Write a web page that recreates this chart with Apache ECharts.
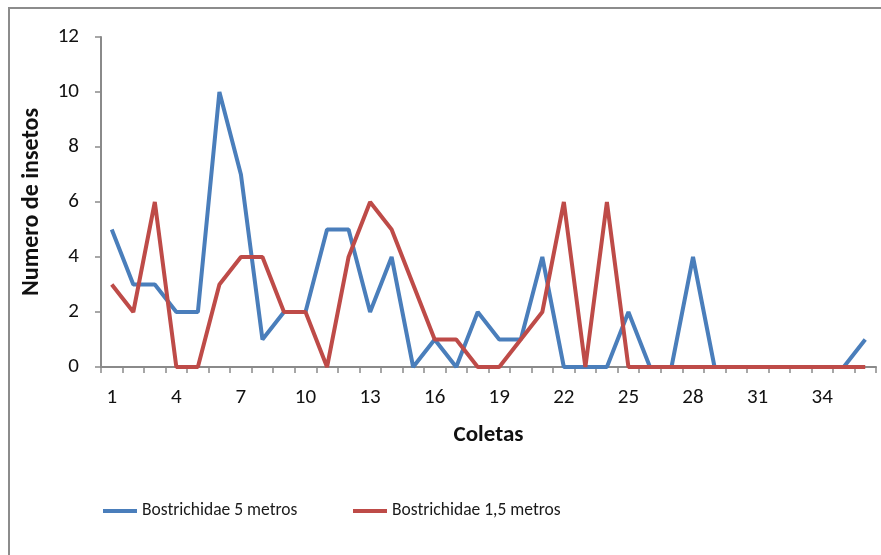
<!DOCTYPE html>
<html>
<head>
<meta charset="utf-8">
<script src="https://cdn.jsdelivr.net/npm/echarts@6/dist/echarts.min.js"></script>
<style>
  html, body { margin: 0; padding: 0; background: #ffffff; }
  #chart { width: 881px; height: 555px; }
</style>
</head>
<body>
<div id="chart"></div>
<script>
// Collection number (Coletas) along the x axis
const coletas = Array.from({ length: 36 }, (_, i) => String(i + 1));

// Insect counts per collection
const bostrichidae5m = [5, 3, 3, 2, 2, 10, 7, 1, 2, 2, 5, 5, 2, 4, 0, 1, 0, 2, 1, 1, 4, 0, 0, 0, 2, 0, 0, 4, 0, 0, 0, 0, 0, 0, 0, 1];
const bostrichidae15m = [3, 2, 6, 0, 0, 3, 4, 4, 2, 2, 0, 4, 6, 5, 3, 1, 1, 0, 0, 1, 2, 6, 0, 6, 0, 0, 0, 0, 0, 0, 0, 0, 0, 0, 0, 0];

const seriesNames = ['Bostrichidae 5 metros', 'Bostrichidae 1,5 metros'];
const yTicks = { min: 0, max: 12, interval: 2 };

const FONT = 'Carlito, Calibri, Lato, sans-serif';
const axisGray = '#8a8a8a';
const BLUE = '#4A7EBB';
const RED = '#BE4B48';

const legendText = { fontFamily: FONT, fontSize: 17.5, color: '#1a1a1a' };
const legendBase = {
  top: 502,
  padding: 0,
  itemWidth: 34,
  itemHeight: 4,
  itemGap: 0,
  icon: 'rect',
  textStyle: legendText
};

const chart = echarts.init(document.getElementById('chart'), null, { renderer: 'canvas' });

chart.setOption({
  backgroundColor: '#ffffff',
  animation: false,
  textStyle: { fontFamily: FONT },
  graphic: [
    {
      type: 'rect',
      shape: { x: 9, y: 8, width: 900, height: 600 },
      style: { fill: 'none', stroke: '#8c8c8c', lineWidth: 2 },
      silent: true
    }
  ],
  grid: { left: 101, right: 5, top: 37, bottom: 188, containLabel: false },
  legend: [
    Object.assign({}, legendBase, { left: 103, data: [seriesNames[0]] }),
    Object.assign({}, legendBase, { left: 353, data: [seriesNames[1]] })
  ],
  xAxis: {
    type: 'category',
    data: coletas,
    boundaryGap: true,
    name: 'Coletas',
    nameLocation: 'middle',
    nameGap: 57,
    nameTextStyle: { fontFamily: FONT, fontSize: 23, fontWeight: 'bold', color: '#111' },
    axisLine: { lineStyle: { color: axisGray, width: 2 } },
    axisTick: { show: true, interval: 0, length: 6, lineStyle: { color: axisGray, width: 1.5 } },
    axisLabel: { interval: 2, fontFamily: FONT, fontSize: 21, color: '#111', margin: 20 },
    splitLine: { show: false }
  },
  yAxis: {
    type: 'value',
    min: yTicks.min,
    max: yTicks.max,
    interval: yTicks.interval,
    name: 'Numero de insetos',
    nameLocation: 'middle',
    nameGap: 57,
    nameRotate: 90,
    nameTextStyle: { fontFamily: FONT, fontSize: 24, fontWeight: 'bold', color: '#111' },
    axisLine: { show: true, lineStyle: { color: axisGray, width: 2 } },
    axisTick: { show: true, length: 6, lineStyle: { color: axisGray, width: 1.5 } },
    axisLabel: { fontFamily: FONT, fontSize: 21, color: '#111', margin: 22 },
    splitLine: { show: false }
  },
  series: [
    {
      name: seriesNames[0],
      type: 'line',
      data: bostrichidae5m,
      symbol: 'none',
      color: BLUE,
      lineStyle: { width: 4, color: BLUE }
    },
    {
      name: seriesNames[1],
      type: 'line',
      data: bostrichidae15m,
      symbol: 'none',
      color: RED,
      lineStyle: { width: 4, color: RED }
    }
  ]
});
</script>
</body>
</html>
